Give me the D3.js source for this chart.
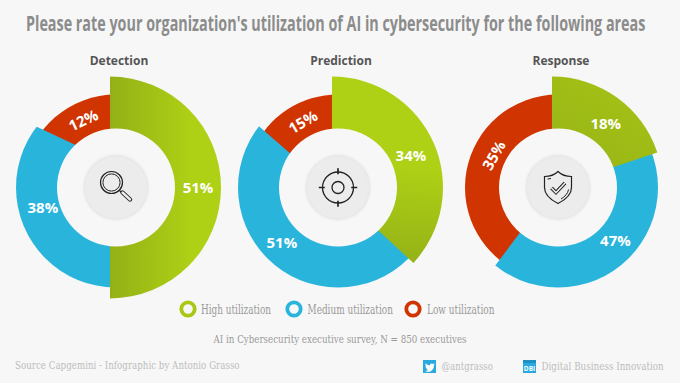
<!DOCTYPE html>
<html>
<head>
<meta charset="utf-8">
<script src="https://cdn.jsdelivr.net/npm/d3@7"></script>
<style>
  html, body { margin: 0; padding: 0; background: #f7f7f7; }
  svg { display: block; }
</style>
</head>
<body>
<svg id="chart"></svg>
<script>
// printed percentages
const categories = ['Detection', 'Prediction', 'Response'];
const levels = ['High utilization', 'Medium utilization', 'Low utilization'];
const highValues = [51, 34, 18];
const mediumValues = [38, 51, 47];
const lowValues = [12, 15, 35];

// the wedges in the picture are not proportional to the printed numbers,
// so these are the shares of the circle
const highDrawn = [50, 36.9, 19.9];
const mediumDrawn = [32, 49.5, 40.35];
const lowDrawn = [18, 13.6, 39.75];

const width = 680, height = 383;
const colors = ['#a8c814', '#29b4dc', '#d03400'];

// layout
const centerX = [116, 338, 558], centerY = 187.5;
const r = { hole: 59, disc: 32.5, high: 111, medium: 100, low: 93 };
const highShift = -6;
const mediumEdgeShift = [-23.5, 7.5, -5.5];
const labelNudge = [
  [[3, 0], [-6, -23], [8, -3]],
  [[1, 2], [-3, -4.5], [-3.5, 3.7]],
  [[4, 5.5], [11, -11], [8, -8]]
];
const labelTurn = [[0, 0, -25], [0, 0, -30], [0, 0, -60]];
const greenRamp = [
  [[0, 0], [80, 0], '#94b017', '#aed015'],
  [[60, 80], [70, -20], '#94b017', '#aed015'],
  [[40, -10], [90, -90], '#98b517', '#a3c115']
];

const svg = d3.select('#chart').attr('width', width).attr('height', height);
svg.append('rect').attr('width', width).attr('height', height).attr('fill', '#f7f7f7');
const defs = svg.append('defs');

// squeeze a text sideways so it fills the same span as in the picture
function fitted(x, y, len, font, color, str) {
  const t = svg.append('text')
    .style('font', font)
    .style('fill', color)
    .text(str);
  const sx = len / t.node().getComputedTextLength();
  t.attr('transform', `translate(${x},${y}) scale(${sx},1)`);
}

fitted(26, 31, 620, 'bold 21px "Open Sans", sans-serif', '#8c8c8c',
  "Please rate your organization's utilization of AI in cybersecurity for the following areas");

const pie = d3.pie().sort(null).startAngle(0).endAngle(2 * Math.PI);
const wedge = d3.arc().innerRadius(0);

function magnifier(g) {
  g.append('circle').attr('cx', -4.5).attr('cy', -5).attr('r', 11).attr('fill', 'none').attr('stroke', '#222').attr('stroke-width', 1.2);
  g.append('circle').attr('cx', -4.5).attr('cy', -5).attr('r', 8.6).attr('fill', 'none').attr('stroke', '#222').attr('stroke-width', 1);
  g.append('path').attr('d', 'M3.5 3 L6 5.5').attr('stroke', '#222').attr('stroke-width', 1.2);
  g.append('path').attr('d', 'M6.5 5 L14 12').attr('stroke', '#222').attr('stroke-width', 4.4).attr('stroke-linecap', 'round');
  g.append('path').attr('d', 'M6.5 5 L14 12').attr('stroke', '#ececec').attr('stroke-width', 2.4).attr('stroke-linecap', 'round');
}

function target(g) {
  g.append('circle').attr('r', 15.5).attr('fill', 'none').attr('stroke', '#222').attr('stroke-width', 1.3);
  g.append('circle').attr('r', 6).attr('fill', 'none').attr('stroke', '#222').attr('stroke-width', 1.3);
  g.append('path').attr('d', 'M-16 0H-11M11 0H16M0 -16V-11M0 11V16').attr('stroke', '#222').attr('stroke-width', 1.4)
    .attr('transform', 'scale(1.2)');
}

function shield(g) {
  g.append('path')
    .attr('d', 'M0 -16 C-4 -12 -9 -11 -13.5 -11 L-13.5 0 C-13.5 8 -6 13 0 16 C6 13 13.5 8 13.5 0 L13.5 -11 C9 -11 4 -12 0 -16 Z')
    .attr('fill', 'none').attr('stroke', '#222').attr('stroke-width', 1.2);
  g.append('path').attr('d', 'M-10.5 -8.5 L-7 -9 M10.5 2 C10 6 7 9 3 11.5')
    .attr('fill', 'none').attr('stroke', '#222').attr('stroke-width', 1);
  g.append('path').attr('d', 'M-6.5 0.5 L-2 5 L7 -4.5')
    .attr('fill', 'none').attr('stroke', '#222').attr('stroke-width', 3.6);
  g.append('path').attr('d', 'M-6.5 0.5 L-2 5 L7 -4.5')
    .attr('fill', 'none').attr('stroke', '#ececec').attr('stroke-width', 1.6);
}

const icons = [magnifier, target, shield];

defs.append('filter').attr('id', 'soft').append('feGaussianBlur').attr('stdDeviation', 0.8);

categories.forEach((name, i) => {
  const cx = centerX[i];
  const slices = pie([highDrawn[i], mediumDrawn[i], lowDrawn[i]]);
  const printed = [highValues[i], mediumValues[i], lowValues[i]];

  const g = svg.append('g').attr('transform', `translate(${cx},${centerY})`);

  svg.append('text')
    .attr('x', cx + 3).attr('y', 65)
    .attr('text-anchor', 'middle')
    .style('font', 'bold 12px "Open Sans"')
    .style('fill', '#555')
    .text(name);

  // low sits at the bottom, medium covers its start, high covers everything
  g.append('path')
    .attr('d', wedge({ startAngle: slices[2].startAngle - 0.3, endAngle: slices[2].endAngle, outerRadius: r.low }))
    .attr('fill', colors[2]);

  defs.append('clipPath').attr('id', 'medium-' + i).append('circle').attr('r', r.medium);
  g.append('g').attr('clip-path', `url(#medium-${i})`)
    .append('path')
    .attr('transform', `translate(0,${mediumEdgeShift[i]})`)
    .attr('d', wedge({ startAngle: slices[1].startAngle - 0.2, endAngle: slices[1].endAngle, outerRadius: 220 }))
    .attr('fill', colors[1]);

  const ramp = greenRamp[i];
  const grad = defs.append('linearGradient').attr('id', 'high-' + i)
    .attr('gradientUnits', 'userSpaceOnUse')
    .attr('x1', ramp[0][0]).attr('y1', ramp[0][1])
    .attr('x2', ramp[1][0]).attr('y2', ramp[1][1]);
  grad.append('stop').attr('offset', 0).attr('stop-color', ramp[2]);
  grad.append('stop').attr('offset', 1).attr('stop-color', ramp[3]);

  g.append('path')
    .attr('transform', `translate(${highShift},0)`)
    .attr('d', wedge({ startAngle: slices[0].startAngle, endAngle: slices[0].endAngle, outerRadius: r.high }))
    .attr('fill', `url(#high-${i})`);

  // hole and icon disc
  g.append('circle').attr('r', r.hole).attr('fill', '#f7f7f7');
  g.append('circle').attr('r', r.disc).attr('fill', '#e4e4e4').attr('filter', 'url(#soft)');
  g.append('circle').attr('r', r.disc - 1.5).attr('fill', '#ececec');
  icons[i](g.append('g'));

  // percentage labels
  const radii = [r.high, r.medium, r.low];
  slices.forEach((s, j) => {
    const c = d3.arc().innerRadius(r.hole).outerRadius(radii[j]).centroid(s);
    const x = c[0] + (j === 0 ? highShift : 0) + labelNudge[i][j][0];
    const y = c[1] + labelNudge[i][j][1];
    g.append('text')
      .attr('transform', `translate(${x},${y}) rotate(${labelTurn[i][j]})`)
      .attr('text-anchor', 'middle')
      .attr('dy', '0.36em')
      .style('font', 'bold 15px "Open Sans"')
      .style('fill', '#fff')
      .text(printed[j] + '%');
  });
});

// legend
const legendRing = [188, 294, 413];
const legendText = [[201, 70], [307.5, 85.5], [427, 67.5]];
levels.forEach((name, i) => {
  svg.append('circle')
    .attr('cx', legendRing[i]).attr('cy', 309)
    .attr('r', 6.7).attr('fill', '#f7f7f7')
    .attr('stroke', colors[i]).attr('stroke-width', 3.8);
  fitted(legendText[i][0], 313.5, legendText[i][1], '12px "DejaVu Serif"', '#9a9a9a', name);
});

const noteFont = '11.5px "DejaVu Serif"';
fitted(213.5, 343, 253.5, noteFont, '#9a9a9a', 'AI in Cybersecurity executive survey, N = 850 executives');
fitted(15, 369, 225, noteFont, '#bdbdbd', 'Source Capgemini - Infographic by Antonio Grasso');
fitted(441.5, 370, 51.5, noteFont, '#bdbdbd', '@antgrasso');
fitted(541.5, 370, 122.5, noteFont, '#bdbdbd', 'Digital Business Innovation');

// footer badges
svg.append('rect').attr('x', 423).attr('y', 360).attr('width', 13).attr('height', 13).attr('fill', '#29a9e0');
svg.append('path')
  .attr('transform', 'translate(424.5,362)')
  .attr('d', 'M10 1.5 C9.5 1.8 9 2 8.5 2 C7.5 0.8 5.2 1.4 5.4 3.4 C3.8 3.3 2.4 2.6 1.2 1.2 C0.6 2.4 1 3.6 1.9 4.3 C1.5 4.3 1.1 4.2 0.8 4 C0.8 5.2 1.6 6.1 2.7 6.4 C2.3 6.5 2 6.5 1.6 6.5 C2 7.4 2.7 7.9 3.7 8 C2.7 8.7 1.6 9 0.4 8.9 C4.5 11.3 9.7 9 9.4 3 C9.8 2.6 10 2.1 10 1.5 Z')
  .attr('fill', '#fff');
svg.append('rect').attr('x', 523).attr('y', 360).attr('width', 13).attr('height', 13).attr('fill', '#29a9e0');
svg.append('rect').attr('x', 523).attr('y', 360).attr('width', 13).attr('height', 3).attr('fill', '#1f8fc4');
svg.append('text')
  .attr('x', 529.5).attr('y', 370.5)
  .attr('text-anchor', 'middle')
  .style('font', 'bold 6.5px "Open Sans"')
  .style('fill', '#fff')
  .text('DBI');
</script>
</body>
</html>
